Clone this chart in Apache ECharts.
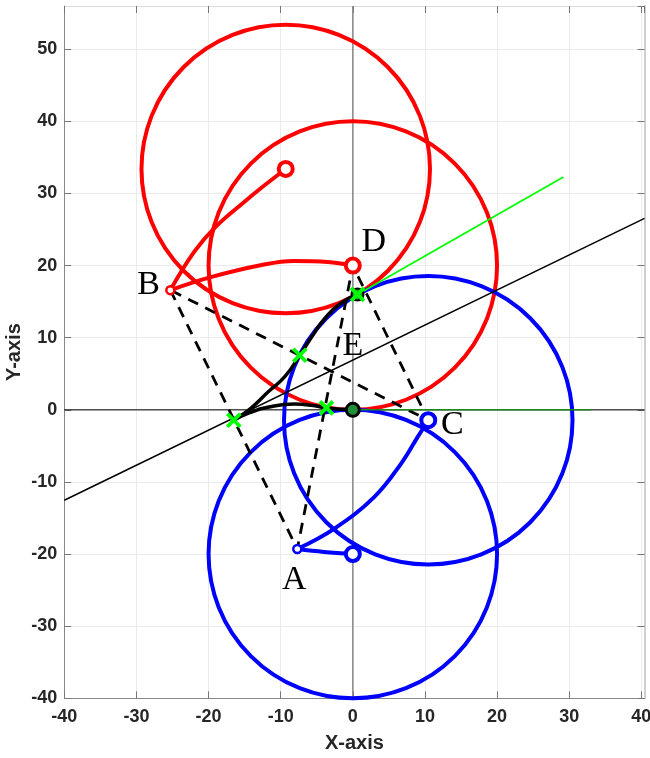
<!DOCTYPE html>
<html>
<head>
<meta charset="utf-8">
<script src="https://cdn.jsdelivr.net/npm/echarts@6/dist/echarts.min.js"></script>
<style>
html,body{margin:0;padding:0;background:#fff;}
#chart{width:650px;height:758px;}
</style>
</head>
<body>
<div id="chart"></div>
<script>
// ---- data ----
const xTickValues = [-40, -30, -20, -10, 0, 10, 20, 30, 40];
const yTickValues = [-40, -30, -20, -10, 0, 10, 20, 30, 40, 50];
const xRange = [-40, 40.44];
const yRange = [-40, 56];

// circles: [centerX, centerY, radius]
const redCircles = [[-9.3, 33.4, 20], [0, 20, 20]];
const blueCircles = [[0, -20, 20], [10.46, -1.44, 20]];

const redPathTopToB = [[-9.3, 33.4], [-12.8, 30.7], [-15.1, 28.8], [-19.0, 25.4], [-22.0, 21.9], [-25.3, 16.6]];
const redPathBToD = [[-25.3, 16.6], [-19.7, 18.4], [-12.8, 20.05], [-8.2, 20.65], [-3.5, 20.5], [0, 20]];
const bluePathAToC = [[-7.7, -19.3], [-2.6, -16.5], [2.96, -12.1], [6.7, -7.45], [9.0, -3.75], [10.46, -1.44]];
const bluePathAToLow = [[-7.7, -19.3], [-4.0, -19.7], [0, -20]];

const blackCurveUpper = [[-16.5, -1.44], [-14.14, 0.22], [-11.65, 2.58], [-9.43, 4.6], [-7.35, 7.57], [-5.55, 10.35], [-3.74, 12.84], [-1.66, 14.78], [0.65, 16.0]];
const blackCurveLower = [[-16.5, -1.44], [-14.3, -0.4], [-11.8, 0.35], [-8.1, 0.8], [-5.5, 0.6], [-3.66, 0.27], [0, 0]];

const ptA = [-7.7, -19.3], ptB = [-25.3, 16.6], ptC = [10.46, -1.44], ptD = [0, 20];
const dashedQuad = [ptB, ptA, ptD, ptC, ptB];

const blackLine = [[-40, -12.54], [40.44, 26.55]];
const greenLine = [[0.65, 16.0], [29.2, 32.3]];
const darkGreenLine = [[0, 0], [33, 0]];

const redBigMarkers = [[-9.3, 33.4], [0, 20]];
const redSmallMarkers = [[-25.3, 16.6]];
const blueBigMarkers = [[10.46, -1.44], [0, -20]];
const blueSmallMarkers = [[-7.7, -19.3]];
const originMarker = [[0, 0]];
const ringMarker = [[0.65, 16.0]];
const greenCrosses = [[-16.5, -1.44], [-7.36, 7.57], [-3.66, 0.27], [0.65, 16.0]];

const pointLabels = [[-8.1, -23.6, 'A'], [-28.3, 17.3, 'B'], [13.8, -2.1, 'C'], [2.9, 23.3, 'D'], [0, 8.8, 'E']];

// ---- chart ----
const chart = echarts.init(document.getElementById('chart'), null, {renderer: 'canvas'});
const tickFont = {fontFamily: '"Liberation Sans", Arial, sans-serif', fontWeight: 'bold', fontSize: 18, color: '#262626'};
function fmt(list) {
  return v => (list.some(t => Math.abs(t - v) < 1e-6) ? String(Math.round(v)) : '');
}
function lineSeries(data, color, width, extra) {
  return Object.assign({
    type: 'line', data: data, showSymbol: false, symbol: 'none', silent: true,
    lineStyle: {color: color, width: width}, z: 2
  }, extra || {});
}
function circleSeries(data, color) {
  return {
    type: 'custom', data: data, silent: true, z: 2,
    dimensions: ['x', 'y', 'r'], encode: {x: 0, y: 1},
    renderItem: function (params, api) {
      const c = api.coord([api.value(0), api.value(1)]);
      const r = api.size([api.value(2), 0])[0];
      return {type: 'circle', shape: {cx: c[0], cy: c[1], r: r},
        style: {fill: 'none', stroke: color, lineWidth: 4}};
    }
  };
}
function markerSeries(data, color, size, bw, fill) {
  return {
    type: 'scatter', data: data, symbol: 'circle', symbolSize: size, silent: true, z: 6,
    itemStyle: {color: fill || '#ffffff', borderColor: color, borderWidth: bw, opacity: 1}
  };
}

const option = {
  animation: false,
  backgroundColor: '#ffffff',
  grid: {left: 64.3, right: 5.5, top: 6, bottom: 59.7, containLabel: false, outerBoundsMode: 'none'},
  xAxis: [{
    type: 'value', min: xRange[0], max: xRange[1], interval: 10, position: 'bottom',
    name: 'X-axis', nameLocation: 'middle', nameGap: 35, nameMoveOverlap: false,
    nameTextStyle: {fontFamily: '"Liberation Sans", Arial, sans-serif', fontWeight: 'bold', fontSize: 20, color: '#262626'},
    axisLine: {show: true, onZero: false, lineStyle: {color: '#888888', width: 1}},
    axisTick: {show: true, inside: true, length: 7, lineStyle: {color: '#777777', width: 1}},
    axisLabel: Object.assign({margin: 10, formatter: fmt(xTickValues), showMaxLabel: false}, tickFont),
    splitLine: {show: true, lineStyle: {color: '#ebebeb', width: 1}}
  }, {
    type: 'value', min: xRange[0], max: xRange[1], interval: 10, position: 'top',
    axisLine: {show: true, onZero: false, lineStyle: {color: '#dddddd', width: 1}},
    axisTick: {show: true, inside: true, length: 7, lineStyle: {color: '#777777', width: 1}},
    axisLabel: {show: false}, splitLine: {show: false}
  }],
  yAxis: [{
    type: 'value', min: yRange[0], max: yRange[1], interval: 10, position: 'left',
    name: 'Y-axis', nameLocation: 'middle', nameGap: 40, nameRotate: 90, nameMoveOverlap: false,
    nameTextStyle: {fontFamily: '"Liberation Sans", Arial, sans-serif', fontWeight: 'bold', fontSize: 20, color: '#262626'},
    axisLine: {show: true, onZero: false, lineStyle: {color: '#888888', width: 1}},
    axisTick: {show: true, inside: true, length: 7, lineStyle: {color: '#777777', width: 1}},
    axisLabel: Object.assign({margin: 7, formatter: fmt(yTickValues), showMaxLabel: false}, tickFont),
    splitLine: {show: true, lineStyle: {color: '#ebebeb', width: 1}}
  }, {
    type: 'value', min: yRange[0], max: yRange[1], interval: 10, position: 'right',
    axisLine: {show: true, onZero: false, lineStyle: {color: '#d0d0d0', width: 2}},
    axisTick: {show: true, inside: true, length: 7, lineStyle: {color: '#777777', width: 1}},
    axisLabel: {show: false}, splitLine: {show: false}
  }],
  series: [
    lineSeries([[xRange[0], 0], [xRange[1], 0]], '#000000', 1, {z: 1}),
    lineSeries([[0, yRange[0]], [0, yRange[1]]], '#8a8a8a', 1.5, {z: 1}),
    circleSeries(redCircles, '#ff0000'),
    circleSeries(blueCircles, '#0000ff'),
    lineSeries(redPathTopToB, '#ff0000', 4, {smooth: 0.4}),
    lineSeries(redPathBToD, '#ff0000', 4, {smooth: 0.4}),
    lineSeries(bluePathAToC, '#0000ff', 4, {smooth: 0.4}),
    lineSeries(bluePathAToLow, '#0000ff', 4, {smooth: 0.4}),
    lineSeries(blackCurveUpper, '#000000', 3.5, {smooth: 0.5, z: 3}),
    lineSeries(blackCurveLower, '#000000', 3.5, {smooth: 0.5, z: 3}),
    lineSeries(dashedQuad, '#000000', 2.5, {z: 4, lineStyle: {color: '#000000', width: 2.8, type: [11, 8]}}),
    lineSeries(blackLine, '#000000', 1.5, {z: 4}),
    lineSeries(greenLine, '#00ff00', 1.8, {z: 4}),
    lineSeries(darkGreenLine, '#1a8a1a', 1.5, {z: 4}),
    markerSeries(redBigMarkers, '#ff0000', 14, 4),
    markerSeries(redSmallMarkers, '#ff0000', 8, 2.5),
    markerSeries(blueBigMarkers, '#0000ff', 14, 4),
    markerSeries(blueSmallMarkers, '#0000ff', 8, 2.5),
    markerSeries(originMarker, '#000000', 13, 3, '#1f8f3a'),
    markerSeries(ringMarker, '#000000', 12, 2, '#1f8f3a'),
    {
      type: 'custom', data: greenCrosses, silent: true, z: 7, encode: {x: 0, y: 1},
      renderItem: function (params, api) {
        const c = api.coord([api.value(0), api.value(1)]);
        const h = 6.5;
        const st = {stroke: '#00ff00', lineWidth: 3.8};
        return {type: 'group', children: [
          {type: 'line', shape: {x1: c[0] - h, y1: c[1] - h, x2: c[0] + h, y2: c[1] + h}, style: st},
          {type: 'line', shape: {x1: c[0] - h, y1: c[1] + h, x2: c[0] + h, y2: c[1] - h}, style: st}
        ]};
      }
    },
    {
      type: 'custom', data: pointLabels, silent: true, z: 8, encode: {x: 0, y: 1},
      dimensions: ['x', 'y', {name: 't', type: 'ordinal'}],
      renderItem: function (params, api) {
        const c = api.coord([api.value(0), api.value(1)]);
        return {type: 'text', x: c[0], y: c[1], style: {
          text: pointLabels[params.dataIndex][2], font: '34px "Liberation Serif", "DejaVu Serif", serif',
          fill: '#000000', align: 'center', verticalAlign: 'middle'}};
      }
    }
  ]
};
chart.setOption(option);
</script>
</body>
</html>
